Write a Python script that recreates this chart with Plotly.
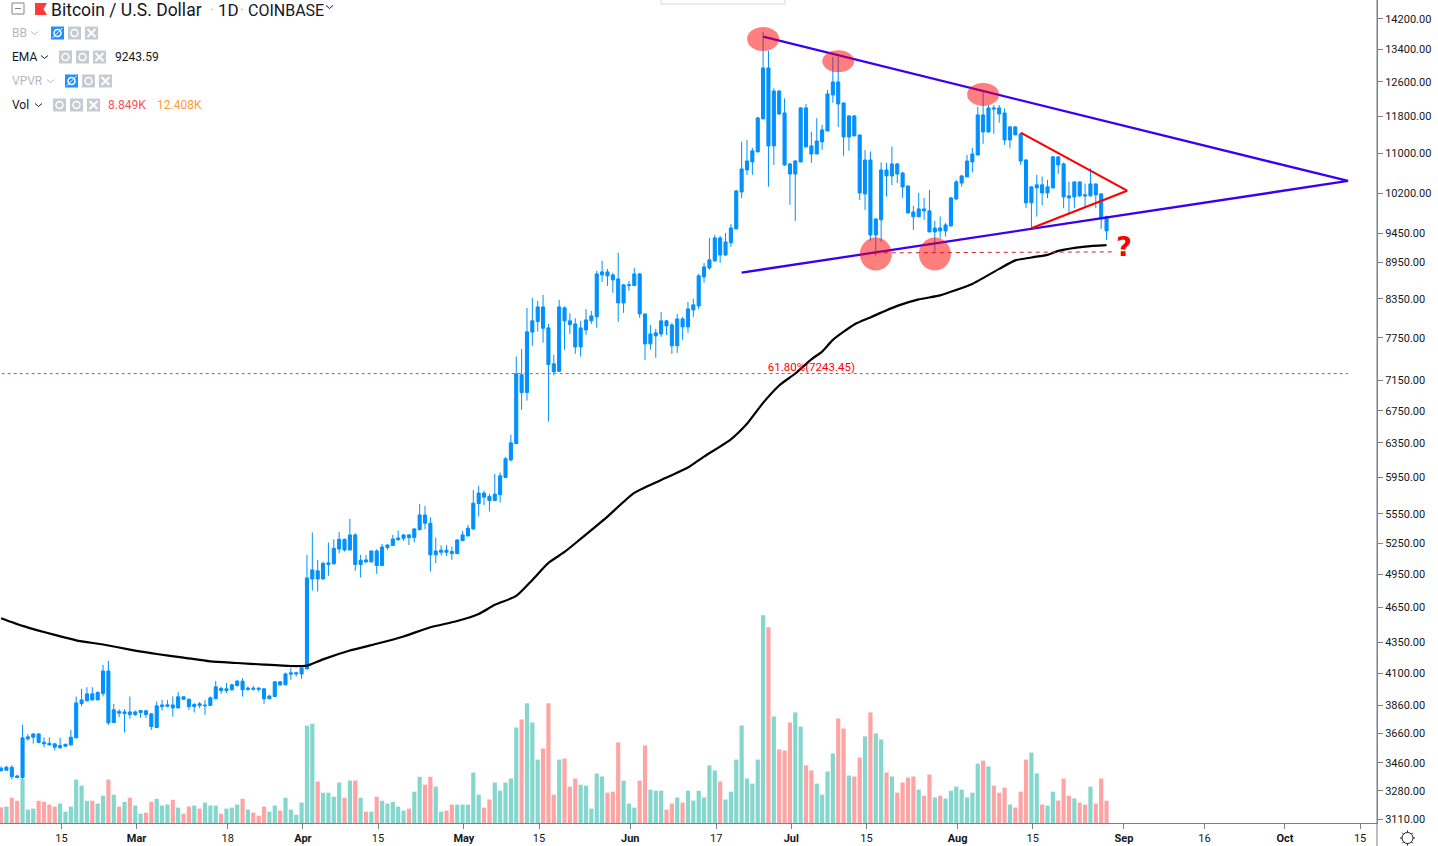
import math
import numpy as np
import pandas as pd
import plotly.graph_objects as go

# daily candles, 2019-02-04 .. 2019-08-29
dates = pd.date_range("2019-02-04", periods=207).strftime("%Y-%m-%d").tolist()

opens = [
    3425, 3412, 3431, 3375, 3365, 3621, 3632, 3655, 3598, 3591, 3587, 3562, 3571, 3580, 3628, 3872, 3892, 3944, 3899, 3947, 4119, 3735, 3814, 3800, 3811,
    3792, 3806, 3819, 3797, 3700, 3850, 3852, 3862, 3840, 3922, 3904, 3850, 3870, 3855, 3858, 3907, 3984, 3969, 3974, 4007, 4040, 3977, 3987, 3987, 3982, 3907, 3924, 4035, 4012, 4094, 4096,
    4096, 4135, 4905, 4981, 4905, 5042, 5048, 5192, 5289, 5183, 5333, 5042, 5086, 5067, 5173, 5032, 5206, 5226, 5285, 5299, 5333, 5306, 5387, 5539, 5452, 5135, 5160, 5180, 5167, 5147,
    5275, 5323, 5394, 5660, 5774, 5736, 5693, 5758, 5947, 6149, 6343, 7227, 6988, 7837, 7995, 8221, 7900, 7379, 7275, 8206, 8006, 7960, 7620, 7870, 8006, 8067, 8736, 8786, 8736, 8670, 8284,
    8561, 8561, 8753, 8113, 7664, 7781, 7810, 8006, 7945, 7636, 8036, 7915, 8174, 8237, 8703, 8853, 8972, 9372, 9072, 9284, 9533, 10226, 10663, 10825, 11034, 11746, 12940, 11160, 12385, 11880,
    10785, 10580, 10825, 11995, 11160, 10990, 11245, 11480, 12293, 12600, 12108, 11352, 11813, 11395, 10188, 10866, 9424, 9698, 10662, 10542, 10785, 10600, 10343, 9845, 9755, 9902, 9865, 9478, 9550, 9497, 9587,
    10091, 10400, 10522, 10825, 10970, 11835, 11458, 11995, 11995, 11880, 11287, 11570, 11415, 10866, 10016, 10305, 10365, 10207, 10305, 10930, 10785, 10150, 10130, 10423, 10170, 10150, 10383, 10188, 9755,
]
highs = [
    3436, 3440, 3444, 3382, 3719, 3653, 3660, 3660, 3632, 3632, 3591, 3628, 3587, 3683, 3924, 3982, 3994, 3994, 3962, 4167, 4198, 3870, 3831, 3831, 3924,
    3821, 3826, 3826, 3802, 3887, 3899, 3899, 3924, 3959, 3924, 3909, 3875, 3884, 3899, 3924, 4042, 3999, 4027, 4020, 4050, 4063, 3999, 4004, 3994, 3984, 3937, 4040, 4042, 4106, 4145, 4114,
    4161, 5135, 5357, 5086, 5070, 5256, 5289, 5364, 5296, 5498, 5350, 5135, 5135, 5177, 5190, 5242, 5239, 5333, 5377, 5340, 5340, 5401, 5655, 5634, 5515, 5306, 5229, 5232, 5216, 5289,
    5374, 5435, 5807, 5854, 5801, 5766, 5988, 6003, 6181, 6448, 7482, 7592, 8206, 8363, 8315, 8411, 7960, 7506, 8331, 8226, 8122, 8047, 8006, 8185, 8159, 8803, 8972, 8836, 8770, 9109, 8588,
    8637, 8853, 8770, 8113, 7945, 7885, 8143, 8021, 7975, 8113, 8067, 8299, 8347, 8753, 8938, 9372, 9425, 9407, 9460, 9624, 10265, 11250, 11287, 11117, 11797, 13860, 13370, 12450, 12410, 12215,
    10805, 10865, 12010, 12085, 11465, 11762, 11614, 12410, 13220, 13220, 12113, 11835, 11835, 11395, 11075, 11040, 9716, 10815, 10805, 11145, 10805, 10625, 10350, 9960, 10207, 10110, 10265, 9680, 9760, 9642, 10135,
    10462, 10562, 10970, 11117, 12025, 12370, 12060, 12060, 12060, 11985, 11590, 11590, 11430, 10880, 10330, 10562, 10530, 10462, 10950, 10950, 10815, 10425, 10435, 10435, 10390, 10695, 10390, 10205, 9775,
]
lows = [
    3403, 3408, 3354, 3361, 3354, 3610, 3589, 3591, 3564, 3575, 3542, 3551, 3566, 3573, 3625, 3850, 3887, 3894, 3897, 3924, 3718, 3730, 3773, 3665, 3763,
    3782, 3768, 3766, 3683, 3697, 3821, 3845, 3777, 3838, 3899, 3826, 3807, 3838, 3790, 3855, 3904, 3944, 3949, 3969, 3999, 3924, 3969, 3969, 3962, 3870, 3904, 3919, 4004, 4009, 4050, 4076,
    4058, 4135, 4798, 4789, 4902, 4934, 5042, 5151, 5167, 5177, 4981, 4918, 5054, 5060, 4953, 5029, 5183, 5222, 5275, 5275, 5232, 5259, 5377, 5391, 4974, 5054, 5128, 5125, 5086, 5141,
    5272, 5316, 5381, 5522, 5643, 5575, 5689, 5671, 5943, 6130, 6340, 6762, 6882, 7636, 7845, 7682, 6613, 7218, 7268, 7578, 7810, 7520, 7482, 7796, 7960, 7900, 8621, 8556, 8443, 7990, 8128,
    8475, 8556, 8052, 7435, 7578, 7463, 7766, 7796, 7520, 7534, 7722, 7826, 8067, 8190, 8605, 8820, 8955, 8938, 9056, 9213, 9533, 10105, 10562, 10562, 11028, 11746, 10330, 10765, 11835, 10745,
    9980, 9680, 10820, 11130, 10805, 10985, 11075, 11480, 12113, 11565, 10950, 11060, 11373, 10072, 9883, 9320, 9060, 9305, 10135, 10360, 10400, 10110, 9815, 9515, 9760, 9698, 9475, 9130, 9365, 9395, 9575,
    10072, 10330, 10522, 10615, 10960, 11205, 11450, 11420, 11660, 11180, 11110, 11395, 10765, 9915, 9515, 9760, 9970, 10105, 10300, 10582, 9915, 9795, 9915, 10125, 9935, 10135, 9915, 9533, 9336,
]
closes = [
    3409, 3431, 3371, 3365, 3628, 3635, 3655, 3596, 3587, 3580, 3564, 3575, 3584, 3632, 3877, 3899, 3944, 3899, 3954, 4119, 3733, 3826, 3802, 3811, 3792,
    3811, 3821, 3792, 3707, 3855, 3862, 3862, 3840, 3922, 3904, 3850, 3865, 3858, 3860, 3914, 3997, 3969, 3982, 4012, 4040, 3974, 3987, 3979, 3979, 3907, 3927, 4035, 4012, 4096, 4104, 4104,
    4145, 4915, 4990, 4905, 5051, 5057, 5199, 5289, 5183, 5333, 5042, 5083, 5067, 5173, 5032, 5212, 5232, 5292, 5302, 5333, 5306, 5394, 5539, 5452, 5135, 5173, 5180, 5160, 5147, 5282,
    5333, 5401, 5664, 5774, 5730, 5693, 5762, 5966, 6161, 6351, 7240, 6988, 7841, 8006, 8221, 7895, 7369, 7270, 8221, 8006, 7950, 7620, 7900, 8021, 8082, 8753, 8786, 8720, 8654, 8284, 8572,
    8572, 8753, 8113, 7664, 7810, 7826, 8006, 7930, 7636, 8036, 7915, 8190, 8253, 8720, 8870, 8989, 9372, 9072, 9300, 9550, 10246, 10683, 10845, 11055, 11768, 12940, 11160, 12385, 11858, 10765,
    10580, 10845, 11995, 11138, 10990, 11265, 11503, 12316, 12600, 12085, 11352, 11813, 11373, 10207, 10866, 9424, 9716, 10662, 10542, 10785, 10580, 10323, 9827, 9755, 9902, 9865, 9478, 9550, 9497, 9605, 10110,
    10423, 10542, 10845, 10990, 11835, 11458, 11995, 11971, 11858, 11287, 11570, 11395, 10845, 10016, 10325, 10365, 10207, 10325, 10930, 10765, 10130, 10110, 10423, 10150, 10150, 10383, 10170, 9716, 9497,
]
# volume, thousands of BTC
volumes = [
    6.2, 6.5, 10.0, 8.8, 17.4, 5.3, 5.7, 8.8, 8.4, 7.3, 6.5, 7.7, 4.5, 6.5, 17.2, 14.8, 8.8, 8.8, 7.7, 10.8, 17.2, 11.2, 6.5, 8.4, 10.0,
    6.9, 3.7, 4.1, 8.4, 9.6, 6.9, 7.3, 9.2, 6.1, 3.7, 6.5, 6.9, 5.7, 8.1, 6.9, 6.9, 3.7, 5.7, 6.1, 7.3, 9.6, 5.3, 4.1, 2.9, 6.5, 4.5, 6.9, 4.9, 10.0, 5.3, 3.3,
    8.1, 38.5, 39.3, 16.4, 12.0, 12.0, 10.4, 16.0, 10.0, 16.8, 16.8, 10.0, 4.5, 4.5, 10.4, 8.8, 7.7, 8.4, 6.5, 4.9, 5.7, 12.4, 18.3, 15.2, 18.3, 14.4, 4.5, 4.9, 7.3, 7.3,
    7.3, 7.3, 20.0, 11.2, 6.1, 9.3, 16.0, 12.8, 16.0, 17.6, 37.8, 41.0, 47.4, 39.8, 25.1, 29.5, 47.4, 11.2, 25.1, 25.5, 14.4, 17.6, 15.2, 14.8, 5.7, 19.6, 18.4, 12.0, 12.4, 31.9, 16.8,
    7.7, 6.1, 16.8, 30.7, 13.2, 12.8, 12.8, 5.3, 7.7, 10.1, 8.1, 12.8, 8.9, 12.8, 10.1, 22.8, 20.8, 16.4, 9.3, 12.4, 25.1, 38.6, 17.6, 15.6, 25.1, 82.3, 77.5, 42.2, 29.1, 28.7,
    39.8, 43.8, 38.2, 22.8, 20.8, 15.6, 11.2, 20.4, 27.5, 41.4, 37.4, 18.8, 18.4, 25.9, 34.3, 43.8, 35.5, 33.1, 20.0, 18.4, 12.0, 16.0, 18.0, 18.4, 13.2, 10.8, 19.2, 10.1, 10.8, 9.7, 12.8,
    14.4, 13.2, 10.1, 12.0, 23.5, 24.7, 22.4, 14.8, 12.0, 14.0, 7.3, 6.1, 12.4, 25.1, 27.9, 19.6, 7.3, 6.9, 12.4, 8.9, 17.6, 10.8, 9.7, 8.1, 7.3, 14.4, 7.7, 17.6, 8.849,
]

ema_dates = [
    "2019-02-04", "2019-02-08", "2019-02-11", "2019-02-14", "2019-02-18", "2019-02-23", "2019-02-28", "2019-03-05", "2019-03-10", "2019-03-15",
    "2019-03-20", "2019-03-25", "2019-03-30", "2019-04-01", "2019-04-02", "2019-04-05", "2019-04-10", "2019-04-15", "2019-04-20", "2019-04-25",
    "2019-04-30", "2019-05-04", "2019-05-07", "2019-05-11", "2019-05-14", "2019-05-17", "2019-05-20", "2019-05-23", "2019-05-28", "2019-06-02",
    "2019-06-08", "2019-06-12", "2019-06-15", "2019-06-20", "2019-06-23", "2019-06-26", "2019-06-29", "2019-07-02", "2019-07-05", "2019-07-07",
    "2019-07-09", "2019-07-13", "2019-07-16", "2019-07-21", "2019-07-25", "2019-07-29", "2019-08-01", "2019-08-04", "2019-08-09", "2019-08-12",
    "2019-08-15", "2019-08-18", "2019-08-20", "2019-08-25", "2019-08-29",
]
ema_values = [
    4553, 4487, 4447, 4411, 4366, 4331, 4290, 4254, 4225, 4195,
    4182, 4169, 4158, 4158, 4161, 4211, 4282, 4337, 4398, 4475,
    4529, 4590, 4670, 4750, 4896, 5057, 5163, 5293, 5522, 5776,
    5946, 6060, 6188, 6394, 6585, 6852, 7082, 7245, 7442, 7553,
    7722, 7952, 8059, 8237, 8339, 8403, 8491, 8588, 8836, 8980,
    9030, 9074, 9143, 9218, 9243.59,
]

# hand drawn lines on the chart
wedge_dates = ["2019-06-26", "2019-10-13", "2019-06-22"]
wedge_prices = [13731, 10441, 8774]
red_dates = ["2019-08-13", "2019-09-01 20:00", "2019-08-15"]
red_prices = [11445, 10251, 9545]
support_dates = ["2019-07-17", "2019-08-30"]
support_prices = [9109, 9126]
fib_dates = ["2019-02-03", "2019-10-13"]
fib_level = 7243.45
# marker blobs, anchored on their lower edge (plotly drops negative pixel offsets on a log axis)
spot_dates = ["2019-06-26", "2019-07-10", "2019-08-06", "2019-07-17", "2019-07-28"]
spot_floor = [13363, 12834, 12040, 8808, 8808]
spot_height = [24, 22, 23, 33, 33]

price_ticks = [14200, 13400, 12600, 11800, 11000, 10200, 9450, 8950, 8350, 7750, 7150, 6750, 6350, 5950,
               5550, 5250, 4950, 4650, 4350, 4100, 3860, 3660, 3460, 3280, 3110]
time_ticks = ["2019-02-15", "2019-03-01", "2019-03-18", "2019-04-01", "2019-04-15", "2019-05-01", "2019-05-15", "2019-06-01",
              "2019-06-17", "2019-07-01", "2019-07-15", "2019-08-01", "2019-08-15", "2019-09-01", "2019-09-16", "2019-10-01", "2019-10-15"]
time_labels = ["15", "<b>Mar</b>", "18", "<b>Apr</b>", "15", "<b>May</b>", "15", "<b>Jun</b>", "17", "<b>Jul</b>", "15", "<b>Aug</b>",
               "15", "<b>Sep</b>", "16", "<b>Oct</b>", "15"]

BLUE = "#0090ff"
TEAL = "#85d6cd"
PINK = "#ffa4a4"
AXIS = "#7d7f85"
TEXT = "#131722"
MUTED = "#b4b7c0"
ICON = "#c8cad3"
FONT = "Roboto"
PLOT_W = 1377
PLOT_H = 823


def px(x):
    return x / PLOT_W


def py(y):
    return 1 - y / PLOT_H


vol_colors = [TEAL if c >= o else PINK for o, c in zip(opens, closes)]

fig = go.Figure()
fig.add_trace(go.Bar(x=dates, y=volumes, marker=dict(color=vol_colors, line=dict(width=0)), yaxis="y", name="Vol"))
fig.add_trace(go.Candlestick(
    x=dates, open=opens, high=highs, low=lows, close=closes, yaxis="y2", name="BTCUSD",
    increasing=dict(line=dict(color=BLUE, width=1), fillcolor=BLUE),
    decreasing=dict(line=dict(color=BLUE, width=1), fillcolor=BLUE),
))
fig.add_trace(go.Scatter(x=fib_dates, y=[fib_level, fib_level], mode="lines", yaxis="y2",
                         line=dict(color="#e8413f", width=1, dash="dot")))
fig.add_trace(go.Scatter(x=ema_dates, y=ema_values, mode="lines", yaxis="y2", name="EMA",
                         line=dict(color="#000000", width=2.2, shape="spline", smoothing=0.6)))
fig.add_trace(go.Scatter(x=wedge_dates, y=wedge_prices, mode="lines", yaxis="y2",
                         line=dict(color="#3a00f5", width=2.3)))
fig.add_trace(go.Scatter(x=red_dates, y=red_prices, mode="lines", yaxis="y2",
                         line=dict(color="#ff0000", width=2.2)))
fig.add_trace(go.Scatter(x=support_dates, y=support_prices, mode="lines", yaxis="y2",
                         line=dict(color="#c8282d", width=1, dash="4px,4px")))
fig.add_trace(go.Scatter(x=["2019-07-05"], y=[7325], mode="text", yaxis="y2", text=["61.80%(7243.45)"],
                         textfont=dict(color="#ff0000", size=11.5, family=FONT)))
fig.add_trace(go.Scatter(x=["2019-09-01 06:00"], y=[9178], mode="text", yaxis="y2", text=["<b>?</b>"],
                         textfont=dict(color="#ff0000", size=27, family="DejaVu Sans")))

shapes = []
for d, p, h in zip(spot_dates, spot_floor, spot_height):
    shapes.append(dict(type="circle", xref="x", yref="y2", xsizemode="pixel", ysizemode="pixel",
                       xanchor=d, yanchor=p, x0=-16, x1=16, y0=0, y1=h,
                       fillcolor="rgba(255,0,0,0.5)", line=dict(width=0)))
# price scale line runs on to the bottom of the window
shapes.append(dict(type="line", xref="paper", yref="paper", x0=1, x1=1, y0=py(846), y1=1, line=dict(color=AXIS, width=1)))
# stub of the floating toolbar at the top
shapes.append(dict(type="rect", xref="paper", yref="paper", x0=px(661), x1=px(785), y0=py(4), y1=py(-4),
                   fillcolor="white", line=dict(color="#d6d8de", width=1)))
# collapse button
shapes.append(dict(type="rect", xref="paper", yref="paper", x0=px(12), x1=px(24), y0=py(14), y1=py(3),
                   line=dict(color="#80838d", width=1)))
shapes.append(dict(type="line", xref="paper", yref="paper", x0=px(15), x1=px(21), y0=py(8.5), y1=py(8.5),
                   line=dict(color="#80838d", width=1)))
# red flag
flag = [(35, 3), (47, 3), (43.5, 9), (47, 15), (35, 15)]
shapes.append(dict(type="path", xref="paper", yref="paper", line=dict(width=0), fillcolor="#ff3a3a",
                   path="M " + " L ".join(f"{px(a):.5f},{py(b):.5f}" for a, b in flag) + " Z"))


def caret(x, y, color):
    pts = [(x, y - 1.5), (x + 3.5, y + 1.5), (x + 7, y - 1.5)]
    shapes.append(dict(type="path", xref="paper", yref="paper", line=dict(color=color, width=1),
                       path="M " + " L ".join(f"{px(a):.5f},{py(b):.5f}" for a, b in pts)))


def icons(x, y, hidden):
    # eye, settings and close buttons after each study name
    eye_col = "#1e90ff" if hidden else ICON
    for i, col in enumerate([eye_col, ICON, ICON]):
        x0 = x + i * 17
        shapes.append(dict(type="rect", xref="paper", yref="paper", x0=px(x0), x1=px(x0 + 13), y0=py(y + 6.5), y1=py(y - 6.5),
                           fillcolor=col, line=dict(width=0)))
        cx = x0 + 6.5
        if i < 2:
            shapes.append(dict(type="circle", xref="paper", yref="paper", x0=px(cx - 3.5), x1=px(cx + 3.5), y0=py(y + 3.5), y1=py(y - 3.5),
                               line=dict(color="white", width=1.5)))
        else:
            for s in (-1, 1):
                shapes.append(dict(type="line", xref="paper", yref="paper", x0=px(cx - 4), x1=px(cx + 4), y0=py(y + 4 * s), y1=py(y - 4 * s),
                                   line=dict(color="white", width=2)))
    if hidden:
        cx = x + 6.5
        shapes.append(dict(type="line", xref="paper", yref="paper", x0=px(cx - 5), x1=px(cx + 5), y0=py(y + 5), y1=py(y - 5),
                           line=dict(color="white", width=1)))


caret(31, 33, MUTED)
caret(41, 57, TEXT)
caret(47, 81, MUTED)
caret(35, 105, TEXT)
caret(326, 7, TEXT)
icons(51, 33, True)
icons(59, 57, False)
icons(65, 81, True)
icons(53, 105, False)

# settings gear, bottom right corner
shapes.append(dict(type="circle", xref="paper", yref="paper", x0=px(1402), x1=px(1413), y0=py(843.5), y1=py(832.5),
                   line=dict(color="#202228", width=1)))
for a in np.arange(0, 2 * np.pi, np.pi / 4):
    shapes.append(dict(type="line", xref="paper", yref="paper",
                       x0=px(1407.5 + 5.5 * math.cos(a)), x1=px(1407.5 + 7.5 * math.cos(a)),
                       y0=py(838 + 5.5 * math.sin(a)), y1=py(838 + 7.5 * math.sin(a)),
                       line=dict(color="#202228", width=1)))

header = [
    (51, 10.4, "Bitcoin / U.S. Dollar", TEXT, 17.5, FONT),
    (210, 10.4, "·", MUTED, 14, FONT),
    (218, 10.4, "1D", TEXT, 17, FONT),
    (240, 10.4, "·", MUTED, 14, FONT),
    (248, 10.4, "COINBASE", TEXT, 16, FONT),
    (12, 33, "BB", MUTED, 12, FONT),
    (12, 57, "EMA", TEXT, 12, FONT),
    (115, 57, "9243.59", TEXT, 12, FONT),
    (12, 81, "VPVR", MUTED, 12, FONT),
    (12, 105, "Vol", TEXT, 12, FONT),
    (108, 105, "8.849K", "#f7525f", 12, FONT),
    (157, 105, "12.408K", "#ff9c38", 12, FONT),
]
annotations = [dict(xref="paper", yref="paper", x=px(a), y=py(b), text=t, showarrow=False, xanchor="left", yanchor="middle",
                    xshift=-1, borderpad=0, font=dict(color=c, size=s, family=f)) for a, b, t, c, s, f in header]

fig.update_layout(
    width=1438,
    height=846,
    margin=dict(l=0, r=61, t=0, b=23, pad=0),
    paper_bgcolor="white",
    plot_bgcolor="white",
    showlegend=False,
    bargap=0.22,
    boxmode="overlay",
    boxgap=0.18,
    hovermode=False,
    font=dict(family=FONT, size=11, color=TEXT),
    shapes=shapes,
    annotations=annotations,
    xaxis=dict(
        type="date",
        range=["2019-02-03 19:12", "2019-10-18 09:36"],
        rangeslider=dict(visible=False),
        showgrid=False, zeroline=False, showline=True, linecolor=AXIS, linewidth=1,
        ticks="outside", ticklen=5, tickcolor=AXIS,
        tickvals=[t + " 06:00" for t in time_ticks], ticktext=time_labels, tickangle=0,
        tickfont=dict(size=11, color=TEXT, family=FONT),
    ),
    yaxis=dict(range=[0, 325.9], visible=False, domain=[0, 1]),
    yaxis2=dict(
        type="log",
        overlaying="y",
        side="right",
        range=[math.log10(3086.5), math.log10(14721)],
        showgrid=False, zeroline=False, showline=True, linecolor=AXIS, linewidth=1,
        ticks="outside", ticklen=5, tickcolor=AXIS,
        tickvals=price_ticks, ticktext=[f"{t:.2f}" for t in price_ticks],
        tickfont=dict(size=11, color=TEXT, family=FONT),
    ),
)

fig.write_html("out.html", config=dict(displayModeBar=False),
               post_script="document.body.style.margin='0';document.body.style.overflow='hidden';")
